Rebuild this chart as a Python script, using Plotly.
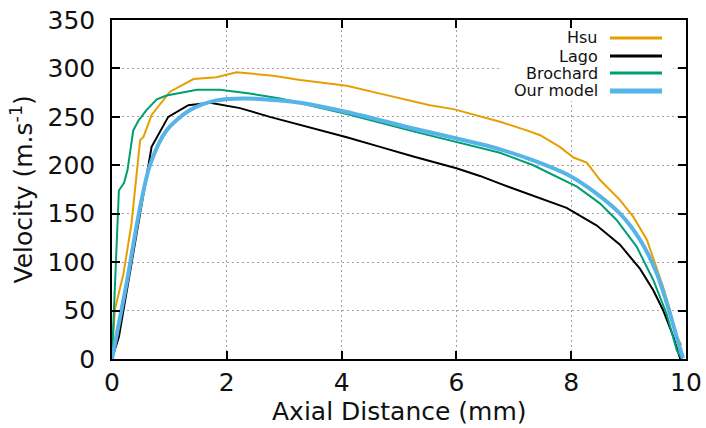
import plotly.graph_objects as go

# ---- data ----
hsu_x = [0.0, 0.03, 0.05, 0.2, 0.34, 0.49, 0.55, 0.69, 1.01, 1.42, 1.82, 2.17, 2.4, 2.81, 3.28,
         4.09, 4.67, 5.54, 5.95, 6.29, 6.64, 6.76, 7.25, 7.46, 7.8, 8.04, 8.27, 8.5, 8.85, 9.08,
         9.32, 9.6, 9.72, 9.84, 9.92]
hsu_y = [5, 38, 51, 88, 140, 226, 229.5, 252, 276, 289, 291, 296, 295, 292.5, 288,
         282, 274, 262, 258, 252.6, 247.5, 245, 235.5, 231, 219, 208, 202.7, 185, 164, 147,
         123, 74.6, 50.6, 23, 14.5]

lago_x = [0.0, 0.12, 0.37, 0.69, 0.98, 1.33, 1.71, 2.23, 2.75, 3.28, 4.09, 4.67, 5.25, 6.0,
          6.41, 6.76, 7.46, 7.92, 8.44, 8.85, 9.2, 9.43, 9.6, 9.78, 9.9]
lago_y = [0, 23, 109, 219, 250, 262, 264.6, 259, 250, 242, 229, 219, 209, 197,
          189, 181, 166, 156, 138, 118, 93, 71, 50.6, 23, 0]

brochard_x = [0.0, 0.12, 0.21, 0.27, 0.37, 0.46, 0.6, 0.78, 0.95, 1.48, 1.88, 2.4, 2.93,
              4.09, 5.25, 6.41, 6.76, 7.34, 8.1, 8.5, 8.79, 9.14, 9.43, 9.66, 9.84, 9.93]
brochard_y = [2, 174, 182, 195, 236, 246, 257, 268, 272, 278, 278, 274, 269,
              253, 235, 218.5, 213, 200, 178, 160.7, 143.5, 116, 81.6, 47, 9, 0]

model_x = [0.0, 0.13, 0.26, 0.49, 0.66, 0.95, 1.36, 1.82, 2.29, 2.93, 3.28, 4.09, 5.25,
           6.41, 6.76, 7.34, 7.98, 8.39, 8.85, 9.2, 9.49, 9.72, 9.87, 9.95]
model_y = [0, 40, 80, 157, 200, 236, 257, 267, 269, 267, 264.6, 255, 238,
           222, 216.5, 205, 189, 173, 150, 123, 88.5, 47, 16, 1]

series_names = ["Hsu", "Lago", "Brochard", "Our model"]
series_colors = ["#E69F00", "#000000", "#009E73", "#56B4E9"]
series_widths = [2, 2, 2, 4]

x_ticks = [0, 2, 4, 6, 8, 10]
y_ticks = [0, 50, 100, 150, 200, 250, 300, 350]

FONT = "DejaVu Sans"

fig = go.Figure()
data = [(hsu_x, hsu_y), (lago_x, lago_y), (brochard_x, brochard_y), (model_x, model_y)]
for (xs, ys), name, col, w in zip(data, series_names, series_colors, series_widths):
    line = dict(color=col, width=w)
    if name == "Our model":
        line.update(shape="spline", smoothing=0.8)
    fig.add_trace(go.Scatter(x=xs, y=ys, mode="lines", name=name, line=line,
                             showlegend=False))

# ---- custom gnuplot-like legend (text right, sample line on the right) ----
W, H = 706, 428
ml, mr, mt, mb = 112, 20, 20, 69
pw, ph = W - ml - mr, H - mt - mb

def px(x):
    return (x - ml) / pw

def py(y):
    return (H - mb - y) / ph

shapes = [dict(type="rect", xref="paper", yref="paper", x0=px(502), x1=px(673),
               y0=py(101), y1=py(29), fillcolor="white", line=dict(width=0), layer="above")]
annotations = []
leg_y = [38, 56, 73, 91]
for name, col, w, yy in zip(series_names, series_colors, series_widths, leg_y):
    annotations.append(dict(text=name, xref="paper", yref="paper", x=px(599), y=py(yy),
                            xanchor="right", yanchor="middle", showarrow=False, borderpad=0,
                            font=dict(family=FONT, size=16, color="#111111")))
    shapes.append(dict(type="line", xref="paper", yref="paper", x0=px(610), x1=px(662),
                       y0=py(yy), y1=py(yy), layer="above",
                       line=dict(color=col, width=w + 1 if w > 2 else 3)))

annotations.append(dict(text="Axial Distance (mm)", xref="paper", yref="paper", x=0.5, y=0,
                        xanchor="center", yanchor="middle", yshift=-52, showarrow=False,
                        font=dict(family=FONT, size=25, color="#111111")))
annotations.append(dict(text="Velocity (m.s<sup>-1</sup>)", xref="paper", yref="paper", x=0,
                        y=0.5, xanchor="center", yanchor="middle", xshift=-90, textangle=-90,
                        showarrow=False, font=dict(family=FONT, size=25, color="#111111")))

axis_common = dict(showline=True, linecolor="#000000", linewidth=1.5, mirror="ticks",
                   ticks="inside", ticklen=8, tickwidth=1.5, tickcolor="#000000",
                   showgrid=True, gridcolor="#a0a0a0", griddash="2px,3px", gridwidth=1,
                   zeroline=False, tickfont=dict(family=FONT, size=25, color="#111111"))

fig.update_layout(
    width=W, height=H,
    margin=dict(l=ml, r=mr, t=mt, b=mb, autoexpand=False),
    paper_bgcolor="white", plot_bgcolor="white",
    xaxis=dict(range=[0, 10], tickvals=x_ticks, ticktext=[str(v) for v in x_ticks],
               **axis_common),
    yaxis=dict(range=[0, 350], tickvals=y_ticks, ticktext=[str(v) for v in y_ticks],
               ticklabelstandoff=10, **axis_common),
    shapes=shapes, annotations=annotations,
)

fig.write_html("out.html")
